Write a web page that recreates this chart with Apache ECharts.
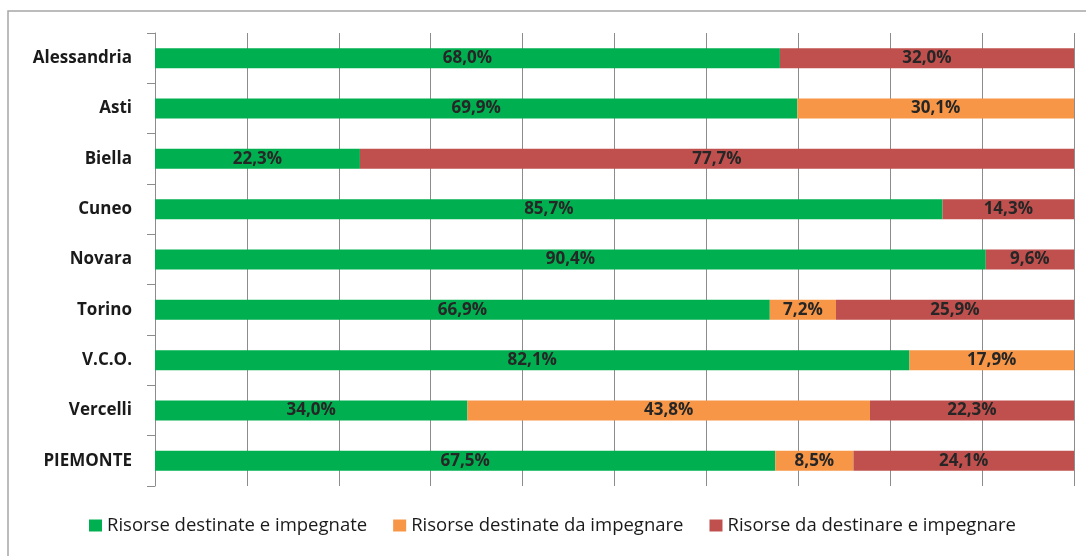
<!DOCTYPE html>
<html>
<head>
<meta charset="utf-8">
<script src="https://cdn.jsdelivr.net/npm/echarts@6/dist/echarts.min.js"></script>
<style>
  html, body { margin: 0; padding: 0; background: #fff; }
  #chart { width: 1086px; height: 556px; }
</style>
</head>
<body>
<div id="chart"></div>
<script>
const categories = ["Alessandria", "Asti", "Biella", "Cuneo", "Novara", "Torino", "V.C.O.", "Vercelli", "PIEMONTE"]
const destinateImpegnate = [68.0, 69.9, 22.3, 85.7, 90.4, 66.9, 82.1, 34.0, 67.5]
const destinateDaImpegnare = [null, 30.1, null, null, null, 7.2, 17.9, 43.8, 8.5]
const daDestinare = [32.0, null, 77.7, 14.3, 9.6, 25.9, null, 22.3, 24.1]
const seriesNames = ["Risorse destinate e impegnate", "Risorse destinate da impegnare", "Risorse da destinare e impegnare"]
const colors = ["#00B050", "#F79646", "#C0504D"]

const font = "'Open Sans', 'DejaVu Sans', sans-serif"
const chart = echarts.init(document.getElementById("chart"))

function makeSeries(name, data, color) {
  return {
    name,
    type: "bar",
    stack: "tot",
    data,
    barWidth: 20,
    itemStyle: { color },
    label: {
      show: true,
      position: "inside",
      color: "#262626",
      fontFamily: font,
      fontSize: 17,
      fontWeight: "bold",
      formatter: (p) => p.value.toFixed(1).replace(".", ",") + "%",
    },
  }
}

chart.setOption({
  animation: false,
  graphic: [
    {
      type: "rect",
      shape: { x: 8, y: 11, width: 1100, height: 560 },
      style: { fill: "none", stroke: "#a6a6a6", lineWidth: 1.5 },
      silent: true,
    },
  ],
  grid: { left: 155, right: 12, top: 33, bottom: 70 },
  legend: {
    bottom: 16,
    left: 84,
    itemWidth: 13,
    itemHeight: 12,
    itemGap: 26,
    icon: "rect",
    textStyle: { color: "#1a1a1a", fontFamily: font, fontSize: 18.5 },
    data: seriesNames,
  },
  xAxis: {
    type: "value",
    min: 0,
    max: 100,
    interval: 10,
    axisLabel: { show: false },
    axisLine: { show: false },
    axisTick: { show: false },
    splitLine: { lineStyle: { color: "#8c8c8c", width: 1 } },
  },
  yAxis: {
    type: "category",
    inverse: true,
    data: categories,
    axisLine: { show: true, lineStyle: { color: "#8c8c8c" } },
    axisTick: { show: true, length: 8, lineStyle: { color: "#8c8c8c" } },
    axisLabel: {
      color: "#1a1a1a",
      fontFamily: font,
      fontSize: 17,
      fontWeight: "bold",
      margin: 23,
    },
  },
  series: [
    makeSeries(seriesNames[0], destinateImpegnate, colors[0]),
    makeSeries(seriesNames[1], destinateDaImpegnare, colors[1]),
    makeSeries(seriesNames[2], daDestinare, colors[2]),
  ],
})
</script>
</body>
</html>
